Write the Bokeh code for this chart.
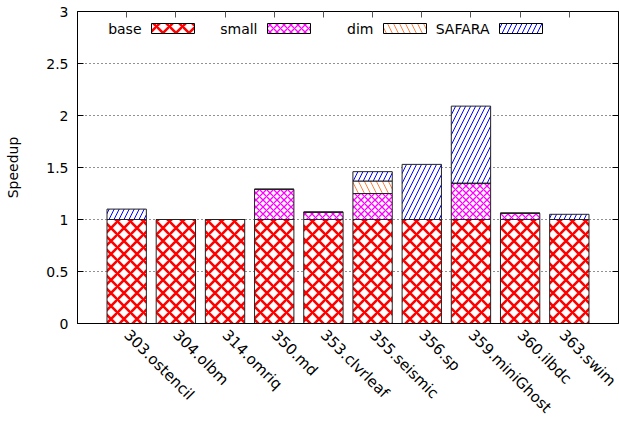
import math
from bokeh.plotting import figure
from bokeh.models import (Range1d, FixedTicker, LinearAxis, BoxAnnotation, Label,
                          ColumnDataSource)
from bokeh.embed import file_html
from bokeh.resources import INLINE

# ---- data ----
categories = ["303.ostencil", "304.olbm", "314.omriq", "350.md", "353.clvrleaf",
              "355.seismic", "356.sp", "359.miniGhost", "360.ilbdc", "363.swim"]
base = [1.0, 1.0, 1.0, 1.0, 1.0, 1.0, 1.0, 1.0, 1.0, 1.0]
small = [0.0, 0.0, 0.0, 0.29, 0.07, 0.25, 0.0, 0.35, 0.06, 0.0]
dim = [0.0, 0.0, 0.0, 0.0, 0.0, 0.12, 0.0, 0.0, 0.0, 0.0]
safara = [0.10, 0.0, 0.0, 0.0, 0.0, 0.09, 0.53, 0.74, 0.0, 0.05]
series_names = ["base", "small", "dim", "SAFARA"]
y_ticks = [0, 0.5, 1, 1.5, 2, 2.5, 3]
y_tick_labels = ["0", "0.5", "1", "1.5", "2", "2.5", "3"]
y_title = "Speedup"

# ---- styles ----
hatch_patterns = ["diagonal_cross", "diagonal_cross", "left_diagonal_line", "right_diagonal_line"]
hatch_colors = ["#ff0000", "#ff00ff", "#ff8040", "#0000ff"]
hatch_scales = [13, 7, 12, 10]
hatch_weights = [2.6, 1.3, 1.0, 1.0]
FONT = "DejaVu Sans"
FS = "14px"
FS_X = "15px"

xpos = list(range(len(categories)))
source = ColumnDataSource(dict(x=xpos, base=base, small=small, dim=dim, SAFARA=safara))

p = figure(width=619, height=427, output_backend="svg", toolbar_location=None,
           x_range=Range1d(-1, len(categories)), y_range=Range1d(0, 3),
           min_border_left=77, min_border_right=1, min_border_top=11, min_border_bottom=104)
p.background_fill_color = "white"
p.border_fill_color = "white"
p.outline_line_color = "black"
p.outline_line_width = 1
p.outline_line_alpha = 1

p.vbar_stack(series_names, x="x", width=0.8, source=source,
             fill_color="white", line_color="#222222", line_width=1,
             hatch_pattern=hatch_patterns, hatch_color=hatch_colors,
             hatch_scale=hatch_scales, hatch_weight=hatch_weights)

# grid
p.xgrid.visible = False
p.ygrid.ticker = FixedTicker(ticks=y_ticks)
p.ygrid.grid_line_color = "#222222"
p.ygrid.grid_line_dash = "1 3"
p.ygrid.grid_line_width = 1

# y axis
ya = p.yaxis[0]
ya.ticker = FixedTicker(ticks=y_ticks)
ya.major_label_overrides = {t: l for t, l in zip(y_ticks, y_tick_labels)}
ya.major_tick_in = 6
ya.major_tick_out = 0
ya.minor_tick_line_color = None
ya.major_label_standoff = 9
ya.major_label_text_font = FONT
ya.major_label_text_font_size = FS
ya.major_label_text_color = "black"
ya.axis_line_color = "black"
ya.axis_label = y_title
ya.axis_label_text_font = FONT
ya.axis_label_text_font_size = FS
ya.axis_label_text_font_style = "normal"
ya.axis_label_text_color = "black"
ya.axis_label_standoff = 22

# x axis
xa = p.xaxis[0]
xa.ticker = FixedTicker(ticks=xpos)
xa.major_label_overrides = {i: c for i, c in zip(xpos, categories)}
xa.major_label_orientation = -math.pi / 4
xa.major_tick_in = 0
xa.major_tick_out = 0
xa.minor_tick_line_color = None
xa.major_label_standoff = 9
xa.major_label_text_font = FONT
xa.major_label_text_font_size = FS_X
xa.major_label_text_color = "black"
xa.axis_line_color = "black"

# mirror ticks
top_axis = LinearAxis(ticker=FixedTicker(ticks=xpos), major_tick_in=6, major_tick_out=0,
                      major_label_overrides={i: "" for i in xpos},
                      major_label_text_font_size="0px", major_label_standoff=0,
                      minor_tick_line_color=None, axis_line_color=None,
                      major_tick_line_color="#555555")
p.add_layout(top_axis, "above")
right_axis = LinearAxis(ticker=FixedTicker(ticks=y_ticks), major_tick_in=6, major_tick_out=0,
                        major_label_overrides={t: "" for t in y_ticks},
                        major_label_text_font_size="0px", major_label_standoff=0,
                        minor_tick_line_color=None, axis_line_color=None)
p.add_layout(right_axis, "right")

# legend (text before swatch), canvas pixel layout
leg_left0 = 151
leg_step = 116
leg_w = 43
leg_top = 23
leg_bot = 33
for i, name in enumerate(series_names):
    l = leg_left0 + leg_step * i
    box = BoxAnnotation(left=l, right=l + leg_w, top=leg_top, bottom=leg_bot,
                        left_units="canvas", right_units="canvas",
                        top_units="canvas", bottom_units="canvas",
                        fill_color="white", fill_alpha=1, line_color="black", line_alpha=1,
                        line_width=1, hatch_pattern=hatch_patterns[i],
                        hatch_color=hatch_colors[i], hatch_scale=hatch_scales[i],
                        hatch_weight=hatch_weights[i])
    p.add_layout(box)
    lab = Label(x=l - 10, y=(leg_top + leg_bot) / 2, x_units="canvas", y_units="canvas",
                text=name, text_align="right", text_baseline="middle",
                text_font=FONT, text_font_size=FS, text_color="black")
    p.add_layout(lab)

open("out.html", "w").write(file_html(p, INLINE))
